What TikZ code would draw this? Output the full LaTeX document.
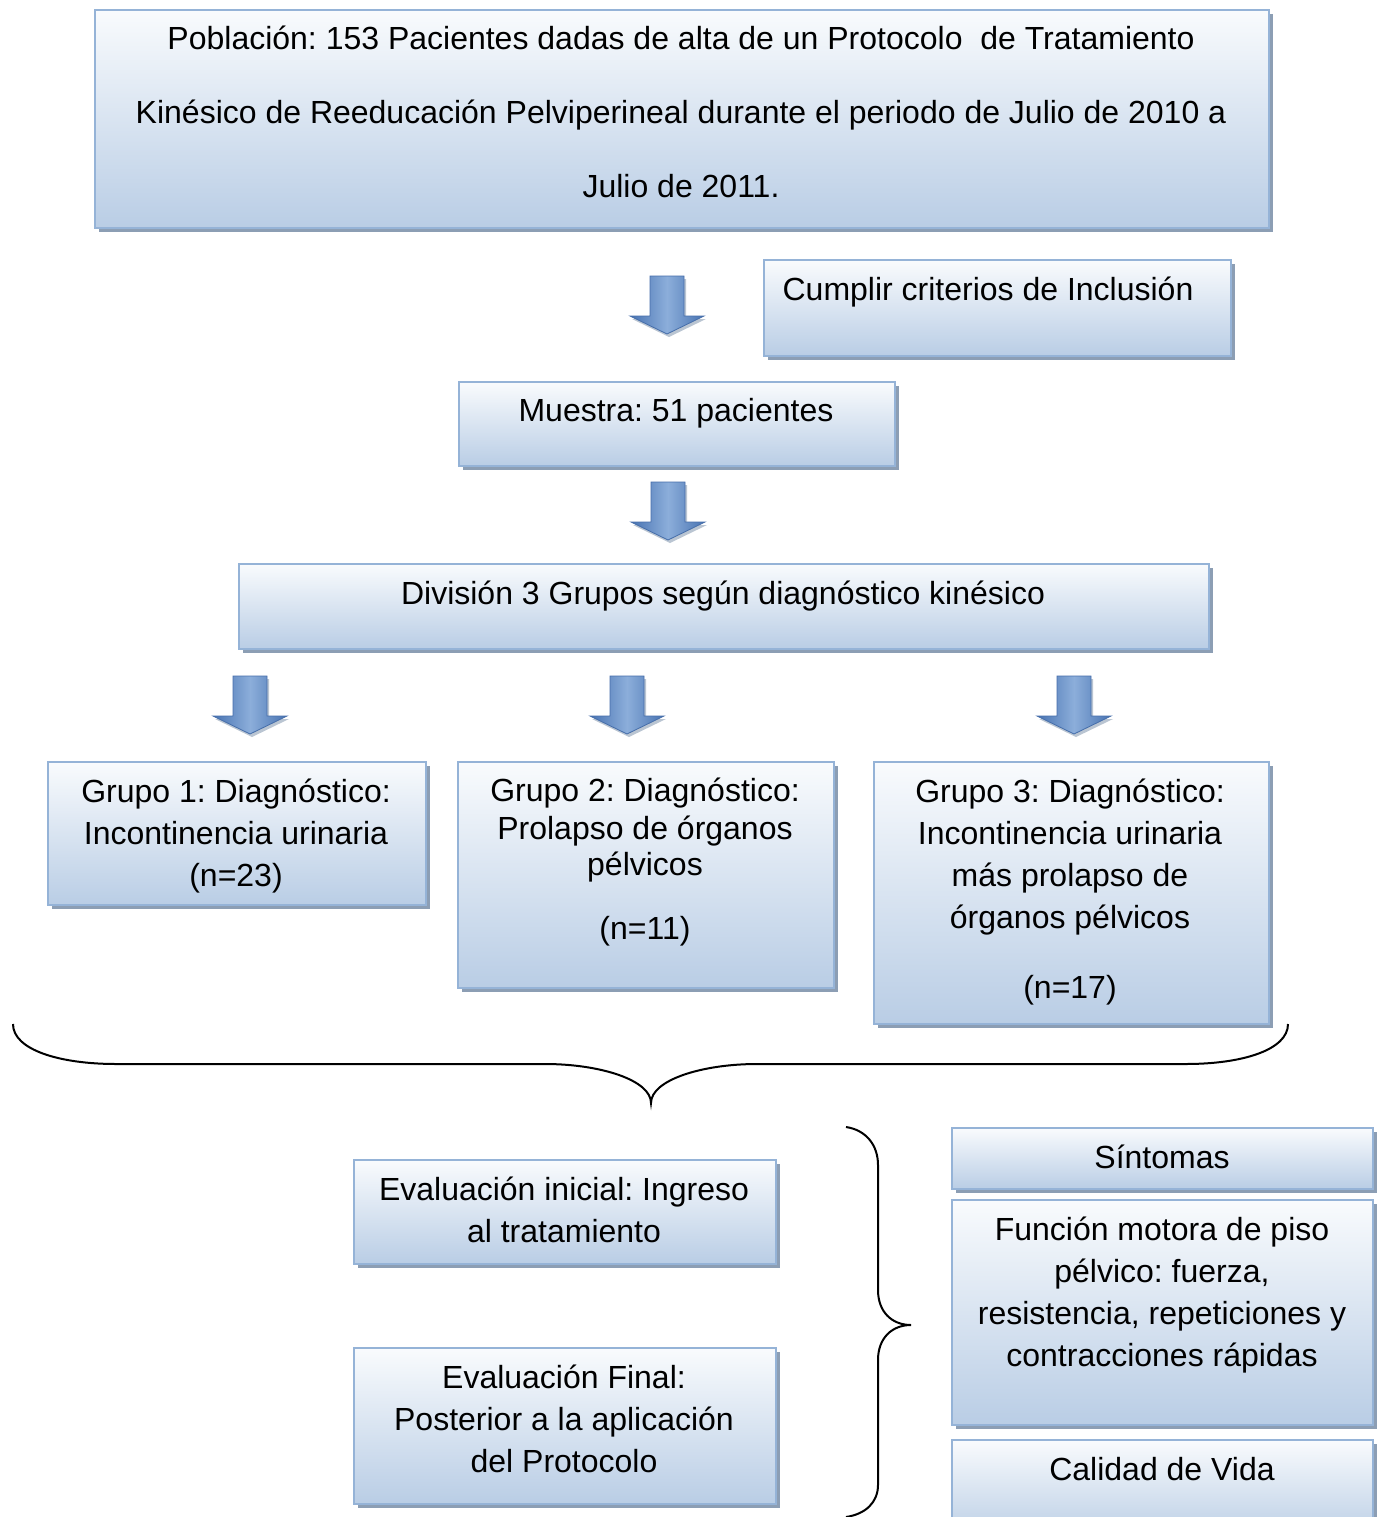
\documentclass[tikz,border=0pt]{standalone}
\usepackage{fontspec}
\setmainfont{Liberation Sans}
\usetikzlibrary{shadows}
\frenchspacing
\definecolor{boxtop}{RGB}{249,251,253}
\definecolor{boxbot}{RGB}{185,205,229}
\definecolor{boxline}{RGB}{149,179,215}
\definecolor{shadowc}{RGB}{140,158,180}
\definecolor{arrD}{RGB}{72,115,178}
\definecolor{arrL}{RGB}{140,174,218}
\definecolor{arrB}{RGB}{70,110,170}
\newcommand\tstr{\rule{0pt}{32pt}}
\newcommand\bluearrow[2]{%
  \fill[shadowc!60] ({#1-15},{#2+3}) -- ({#1+19},{#2+3}) -- ({#1+19},{#2+43}) -- ({#1+39},{#2+43}) -- ({#1+2},{#2+61}) -- ({#1-35},{#2+43}) -- ({#1-15},{#2+43}) -- cycle;
  \shadedraw[left color=arrD, right color=arrD, middle color=arrL, draw=arrB, line width=0.8pt]
    ({#1-17},{#2}) -- ({#1+17},{#2}) -- ({#1+17},{#2+40}) -- ({#1+37},{#2+40}) -- ({#1},{#2+58}) -- ({#1-37},{#2+40}) -- ({#1-17},{#2+40}) -- cycle;}
\tikzset{
  box/.style={draw=boxline, line width=2pt, top color=boxtop, bottom color=boxbot,
    inner sep=0pt, anchor=north west,
    drop shadow={shadow xshift=4pt, shadow yshift=-4pt, fill=shadowc, opacity=1}},
  txt/.style={anchor=north, inner sep=0pt, align=center, font=\fontsize{32}{42}\selectfont},
  brace/.style={draw=black, line width=2pt}
}
\begin{document}
\begin{tikzpicture}[x=1pt,y=-1pt]
\useasboundingbox (0,0) rectangle (1382,1517);
\fill[white] (0,0) rectangle (1382,1517);
% boxes
\node[box, minimum width=1174pt, minimum height=218pt] (pob) at (94,9) {};
\node[box, minimum width=467pt, minimum height=96pt] (crit) at (763,259) {};
\node[box, minimum width=436pt, minimum height=84pt] (mues) at (458,381) {};
\node[box, minimum width=970pt, minimum height=85pt] (div) at (238,563) {};
\node[box, minimum width=378pt, minimum height=143pt] (g1) at (47,761) {};
\node[box, minimum width=376pt, minimum height=226pt] (g2) at (457,761) {};
\node[box, minimum width=395pt, minimum height=262pt] (g3) at (873,761) {};
\node[box, minimum width=422pt, minimum height=104pt] (evi) at (353,1159) {};
\node[box, minimum width=422pt, minimum height=156pt] (evf) at (353,1347) {};
\node[box, minimum width=421pt, minimum height=61pt] (sin) at (951,1127) {};
\node[box, minimum width=421pt, minimum height=225pt] (fun) at (951,1199) {};
\node[box, minimum width=421pt, minimum height=100pt] (cal) at (951,1439) {};
% texts
\node[txt] (tpob) at (681,17) {\tstr Población: 153 Pacientes dadas de alta de un Protocolo\ \ de Tratamiento\\[32pt]
  Kinésico de Reeducación Pelviperineal durante el periodo de Julio de 2010 a\\[32pt]
  Julio de 2011.};
\node[txt] (tcrit) at (988,268) {\tstr Cumplir criterios de Inclusión};
\node[txt] (tmues) at (676,389) {\tstr Muestra: 51 pacientes};
\node[txt] (tdiv) at (723,572) {\tstr División 3 Grupos según diagnóstico kinésico};
\node[txt] (tg1) at (236,770) {\tstr Grupo 1: Diagnóstico:\\Incontinencia urinaria\\(n=23)};
\node[txt] (tg2) at (645,769) {\tstr Grupo 2: Diagnóstico:\\[-4pt]Prolapso de órganos\\[-6pt]pélvicos\\[22pt](n=11)};
\node[txt] (tg3) at (1070,770) {\tstr Grupo 3: Diagnóstico:\\Incontinencia urinaria\\más prolapso de\\órganos pélvicos\\[28pt](n=17)};
\node[txt] (tevi) at (564,1168) {\tstr Evaluación inicial: Ingreso\\al tratamiento};
\node[txt] (tevf) at (564,1356) {\tstr Evaluación Final:\\Posterior a la aplicación\\del Protocolo};
\node[txt] (tsin) at (1162,1136) {\tstr Síntomas};
\node[txt] (tfun) at (1162,1208) {\tstr Función motora de piso\\pélvico: fuerza,\\resistencia, repeticiones y\\contracciones rápidas};
\node[txt] (tcal) at (1162,1448) {\tstr Calidad de Vida};
% block arrows
\bluearrow{667}{276}
\bluearrow{668}{482}
\bluearrow{250}{676}
\bluearrow{627}{676}
\bluearrow{1074}{676}
% braces
\draw[brace] (13,1024) .. controls (13,1050) and (60,1064) .. (116,1064) -- (545,1064)
  .. controls (600,1064) and (651,1080) .. (651,1103)
  .. controls (651,1080) and (702,1064) .. (757,1064) -- (1186,1064)
  .. controls (1242,1064) and (1288,1050) .. (1288,1024);
\draw[brace] (846,1127) .. controls (866,1130) and (878,1145) .. (878,1165) -- (878,1290)
  .. controls (878,1312) and (892,1325) .. (911,1325)
  .. controls (892,1325) and (878,1338) .. (878,1360) -- (878,1485)
  .. controls (878,1502) and (866,1514) .. (846,1517);
\end{tikzpicture}
\end{document}
